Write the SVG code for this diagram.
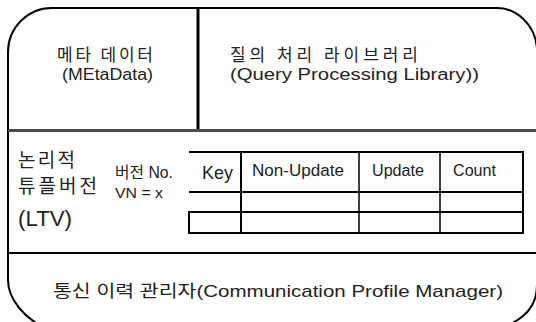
<svg xmlns="http://www.w3.org/2000/svg" width="536" height="322" viewBox="0 0 536 322">
<style>
  text { font-family: "Liberation Sans", "Noto Sans CJK KR", sans-serif; fill: #222; }
  .k { font-family: "Noto Sans CJK KR", "Liberation Sans", sans-serif; }
  .frame { fill: none; stroke: #000; stroke-width: 2; }
  .tbl { fill: none; stroke: #000; stroke-width: 2; }
  .thin { fill: none; stroke: #000; stroke-width: 1.5; }
</style>
<rect x="0" y="0" width="536" height="322" fill="#fff"/>
<g id="frame">
  <path class="frame" d="M52,8 H497 C517,8 535,25 537,48 V285 C537,305 525,320 500,328 H45 C25,318 8,300 8,280 V52 A44,44 0 0 1 52,8 Z"/>
  <line x1="198" y1="8" x2="198" y2="130" stroke="#000" stroke-width="3"/>
  <line x1="8" y1="130.5" x2="537" y2="130.5" stroke="#4a4a4a" stroke-width="3"/>
  <line x1="8" y1="253" x2="537" y2="253" stroke="#000" stroke-width="2"/>
</g>
<g id="metadata">
  <text class="k" x="57" y="61" font-size="17" textLength="96">메타 데이터</text>
  <text x="62" y="80" font-size="16" textLength="91" lengthAdjust="spacingAndGlyphs">(MEtaData)</text>
</g>
<g id="query-processing-library">
  <text class="k" x="230" y="61" font-size="17" textLength="188">질의 처리 라이브러리</text>
  <text x="230" y="80" font-size="16" textLength="249" lengthAdjust="spacingAndGlyphs">(Query Processing Library))</text>
</g>
<g id="ltv">
  <text class="k" x="18" y="167" font-size="19" textLength="57">논리적</text>
  <text class="k" x="18" y="193" font-size="19" textLength="79">튜플버전</text>
  <text x="18" y="226" font-size="22" textLength="54" lengthAdjust="spacingAndGlyphs">(LTV)</text>
</g>
<g id="version">
  <text x="115" y="178" font-size="16" textLength="58" lengthAdjust="spacingAndGlyphs">버전 No.</text>
  <text x="115" y="198" font-size="14" textLength="48" lengthAdjust="spacingAndGlyphs">VN = x</text>
</g>
<g id="tuple-table">
  <path class="tbl" d="M189,152 H523 V233 H189 V212 H523 M189,192 H523"/>
  <line class="tbl" x1="241" y1="152" x2="241" y2="233"/>
  <line class="thin" x1="359" y1="152" x2="359" y2="233"/>
  <line class="thin" x1="440" y1="152" x2="440" y2="233"/>
  <text x="202" y="179" font-size="18" textLength="31" lengthAdjust="spacingAndGlyphs">Key</text>
  <text x="252" y="176" font-size="16" textLength="92" lengthAdjust="spacingAndGlyphs">Non-Update</text>
  <text x="372" y="176" font-size="16" textLength="52" lengthAdjust="spacingAndGlyphs">Update</text>
  <text x="453" y="176" font-size="16" textLength="43" lengthAdjust="spacingAndGlyphs">Count</text>
</g>
<g id="communication-profile-manager">
  <text x="53" y="297" font-size="17" textLength="450" lengthAdjust="spacingAndGlyphs">통신 이력 관리자(Communication Profile Manager)</text>
</g>
<g id="connectors"></g>
</svg>
